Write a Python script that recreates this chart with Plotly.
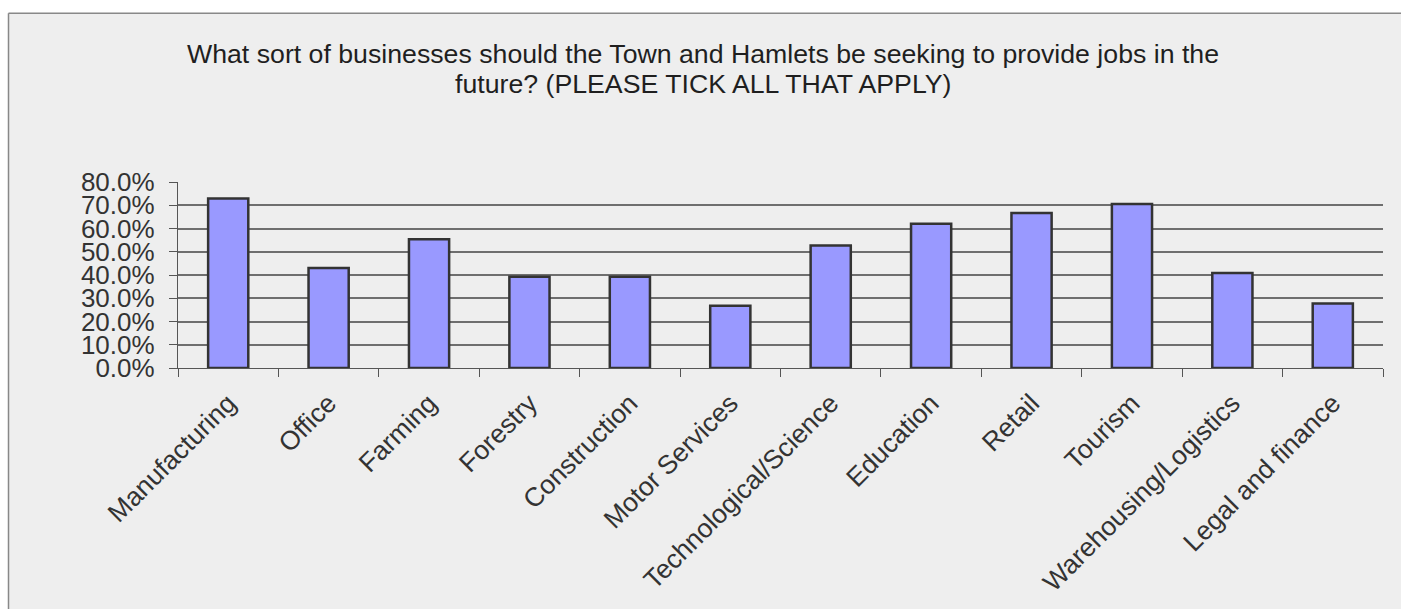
import plotly.graph_objects as go

categories = ["Manufacturing", "Office", "Farming", "Forestry", "Construction",
              "Motor Services", "Technological/Science", "Education", "Retail",
              "Tourism", "Warehousing/Logistics", "Legal and finance"]
values = [0.729, 0.430, 0.554, 0.392, 0.392, 0.268, 0.527, 0.620, 0.667,
          0.705, 0.409, 0.277]
y_ticks = [0.0, 0.1, 0.2, 0.3, 0.4, 0.5, 0.6, 0.7, 0.8]
title_lines = ["What sort of businesses should the Town and Hamlets be seeking to provide jobs in the",
               "future? (PLEASE TICK ALL THAT APPLY)"]

W, H = 1401, 609
L, R, T, B = 178, 18, 182, 239
pw, ph = W - L - R, H - T - B

def px_x(x):
    return (x - L) / pw

def px_y(y):
    return (H - B - y) / ph

fig = go.Figure(go.Bar(
    x=categories, y=values,
    marker=dict(color="#9999FF", line=dict(color="#333333", width=2.5)),
))

# white surround outside the chart area (top and left), then the border lines
fig.add_shape(type="rect", xref="paper", yref="paper",
              x0=px_x(-5), x1=px_x(1430), y0=px_y(11.5), y1=px_y(-5),
              fillcolor="white", line=dict(width=0), layer="below")
fig.add_shape(type="rect", xref="paper", yref="paper",
              x0=px_x(-5), x1=px_x(8.5), y0=px_y(640), y1=px_y(-5),
              fillcolor="white", line=dict(width=0), layer="below")
fig.add_shape(type="line", xref="paper", yref="paper",
              x0=px_x(8.5), x1=px_x(1430), y0=px_y(11.5), y1=px_y(11.5),
              line=dict(color="#888888", width=1.5), layer="below")
fig.add_shape(type="line", xref="paper", yref="paper",
              x0=px_x(8.5), x1=px_x(8.5), y0=px_y(11.5), y1=px_y(640),
              line=dict(color="#888888", width=1.5), layer="below")

for line, yc in zip(title_lines, [53, 83]):
    fig.add_annotation(text=line, xref="paper", yref="paper",
                       x=px_x(703), y=px_y(yc), xanchor="center", yanchor="middle",
                       showarrow=False,
                       font=dict(family="Liberation Sans, Arial, sans-serif", size=26.7, color="#1f1f1f"))

fig.update_layout(
    width=W, height=H,
    margin=dict(l=L, r=R, t=T, b=B, pad=0),
    paper_bgcolor="#EEEEEE", plot_bgcolor="rgba(0,0,0,0)",
    bargap=0.6, showlegend=False,
    font=dict(family="Liberation Sans, Arial, sans-serif", color="#333333"),
)
fig.update_yaxes(range=[0, 0.8], tickvals=y_ticks, tickformat=".1%",
                 showgrid=True, gridcolor="#6e6e6e", gridwidth=1.5,
                 showline=True, linecolor="#555555", linewidth=1.3,
                 ticks="outside", ticklen=8, tickcolor="#555555",
                 ticklabelstandoff=9,
                 tickfont=dict(size=26, color="#333333"), zeroline=False)
fig.update_xaxes(showline=True, linecolor="#555555", linewidth=1.3, mirror=False,
                 ticks="outside", ticklen=8, tickcolor="#555555", tickson="boundaries",
                 tickangle=-45, ticklabelstandoff=8,
                 tickfont=dict(size=26.5, color="#333333"))

fig.write_html("out.html", config={"displayModeBar": False},
               post_script="document.body.style.margin='0px';")
